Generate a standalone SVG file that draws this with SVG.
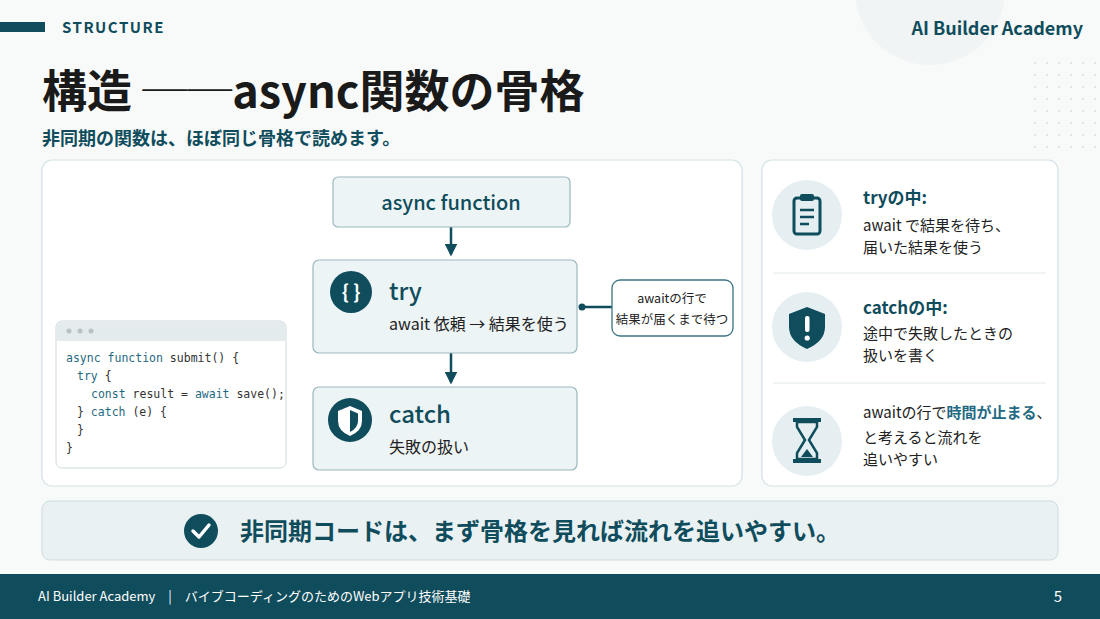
<svg xmlns="http://www.w3.org/2000/svg" width="1100" height="619" viewBox="0 0 1100 619">
<defs>
<style>
.t{font-family:"Noto Sans CJK JP","Noto Sans",sans-serif}
.m{font-family:"DejaVu Sans Mono","Liberation Mono",monospace;font-size:11.5px;fill:#333}
.k{fill:#1f6a82}
.box{fill:#edf4f5;stroke:#9bb8bf;stroke-width:1.2}
.panel{fill:#fff;stroke:#d3e2e5;stroke-width:1.2}
.ic{fill:#e5eef0}
.dk{fill:#0f4c5c}
</style>
<marker id="ah" viewBox="0 0 10 10" refX="8" refY="5" markerWidth="5" markerHeight="5" orient="auto"><path d="M0,0L10,5L0,10z" fill="#0f4c5c"/></marker>
<pattern id="dots" width="12" height="12" patternUnits="userSpaceOnUse"><circle cx="3" cy="3" r="1.2" fill="#dde6e8"/></pattern>
</defs>
<rect width="1100" height="619" fill="#f8fafa"/>
<circle cx="930" cy="-10" r="75" fill="#f1f4f4"/>
<rect x="1025" y="60" width="75" height="90" fill="url(#dots)"/>
<rect x="0" y="22" width="45" height="10" class="dk"/>
<text x="62" y="33" class="t" font-size="15" font-weight="700" fill="#0f4c5c" letter-spacing="1.5">STRUCTURE</text>
<text x="1083" y="35" class="t" font-size="18" font-weight="700" fill="#0f4c5c" text-anchor="end">AI Builder Academy</text>
<text x="42" y="108" class="t" font-size="45" font-weight="700" fill="#1a1a1a">構造 ──async関数の骨格</text>
<text x="42" y="145" class="t" font-size="18" font-weight="700" fill="#0f4c5c">非同期の関数は、ほぼ同じ骨格で読めます。</text>

<rect x="42" y="160" width="700" height="326" rx="10" class="panel"/>
<rect x="762" y="160" width="296" height="326" rx="10" class="panel"/>

<g id="connectors" stroke="#0f4c5c" stroke-width="2.5" fill="none">
<line x1="451" y1="227" x2="451" y2="254" marker-end="url(#ah)"/>
<line x1="451" y1="353" x2="451" y2="382" marker-end="url(#ah)"/>
<line x1="582" y1="307" x2="612" y2="307"/>
<circle cx="582" cy="307" r="3.5" fill="#0f4c5c" stroke="none"/>
</g>

<g id="async">
<rect x="333" y="177" width="237" height="50" rx="5" class="box"/>
<text x="451" y="210" class="t" font-size="20" font-weight="500" fill="#0f4c5c" text-anchor="middle">async function</text>
</g>
<g id="try">
<rect x="313" y="260" width="264" height="93" rx="6" class="box"/>
<circle cx="351" cy="292" r="21" class="dk"/>
<text x="351" y="299" class="t" font-size="19" font-weight="700" fill="#fff" text-anchor="middle">{ }</text>
<text x="389" y="300" class="t" font-size="24" font-weight="500" fill="#0f4c5c">try</text>
<text x="389" y="330" class="t" font-size="16" fill="#222">await 依頼 → 結果を使う</text>
</g>
<g id="catch">
<rect x="313" y="387" width="264" height="83" rx="6" class="box"/>
<circle cx="350" cy="420" r="22" class="dk"/>
<path d="M350,406 L362,411 L362,421 Q362,431 350,436 Q338,431 338,421 L338,411 Z" fill="#fff"/>
<path d="M350,410 L358,413.5 L358,421 Q358,428 350,432 Z" fill="#0f4c5c"/>
<text x="389" y="423" class="t" font-size="24" font-weight="500" fill="#0f4c5c">catch</text>
<text x="389" y="453" class="t" font-size="16" fill="#222">失敗の扱い</text>
</g>
<g id="note">
<rect x="612" y="280" width="121" height="56" rx="8" fill="#fff" stroke="#3d7483" stroke-width="1.3"/>
<text x="672" y="303" class="t" font-size="12.5" fill="#222" text-anchor="middle">awaitの行で</text>
<text x="672" y="324" class="t" font-size="12.5" fill="#222" text-anchor="middle">結果が届くまで待つ</text>
</g>
<g id="code">
<rect x="56" y="321" width="230" height="147" rx="6" fill="#fff" stroke="#cfdadd"/>
<path d="M56,341 V327 a6,6 0 0 1 6,-6 H280 a6,6 0 0 1 6,6 V341 Z" fill="#e4ebed"/>
<circle cx="69" cy="331" r="2.5" fill="#b5c2c6"/><circle cx="80" cy="331" r="2.5" fill="#b5c2c6"/><circle cx="91" cy="331" r="2.5" fill="#b5c2c6"/>
<text x="66" y="362" class="m"><tspan class="k">async function</tspan> submit() {</text>
<text x="77" y="380" class="m"><tspan class="k">try</tspan> {</text>
<text x="91" y="398" class="m"><tspan class="k">const</tspan> result = <tspan class="k">await</tspan> save();</text>
<text x="77" y="416" class="m">} <tspan class="k">catch</tspan> (e) {</text>
<text x="77" y="434" class="m">}</text>
<text x="66" y="452" class="m">}</text>
</g>

<g id="item1">
<circle cx="807" cy="215" r="35" class="ic"/>
<rect x="794" y="198" width="26" height="36" rx="3" fill="none" stroke="#0f4c5c" stroke-width="3"/>
<rect x="800" y="194" width="14" height="7" rx="2" class="dk"/>
<path d="M800,210h14M800,217h14M800,224h9" stroke="#0f4c5c" stroke-width="2.5"/>
<text x="863" y="204" class="t" font-size="17" font-weight="700" fill="#0f4c5c">tryの中:</text>
<text x="863" y="231" class="t" font-size="15" fill="#222">await で結果を待ち、</text>
<text x="863" y="253" class="t" font-size="15" fill="#222">届いた結果を使う</text>
</g>
<line x1="773" y1="273" x2="1046" y2="273" stroke="#e2eaec"/>
<g id="item2">
<circle cx="807" cy="327" r="35" class="ic"/>
<path d="M807,307 L825,314 L825,327 Q825,341 807,349 Q789,341 789,327 L789,314 Z" class="dk"/>
<rect x="805" y="316" width="4.5" height="16" rx="2" fill="#fff"/><circle cx="807.2" cy="338" r="2.6" fill="#fff"/>
<text x="863" y="314" class="t" font-size="17" font-weight="700" fill="#0f4c5c">catchの中:</text>
<text x="863" y="339" class="t" font-size="15" fill="#222">途中で失敗したときの</text>
<text x="863" y="361" class="t" font-size="15" fill="#222">扱いを書く</text>
</g>
<line x1="773" y1="383" x2="1046" y2="383" stroke="#e2eaec"/>
<g id="item3">
<circle cx="807" cy="441" r="35" class="ic"/>
<rect x="793" y="418" width="28" height="4" class="dk"/><rect x="793" y="459" width="28" height="4" class="dk"/>
<path d="M797,422 L817,422 L817,427 L809,440 L817,453 L817,459 L797,459 L797,453 L805,440 L797,427 Z" fill="none" stroke="#0f4c5c" stroke-width="2.5"/>
<path d="M801,457 L807,449 L813,457 Z" class="dk"/>
<text x="863" y="418" class="t" font-size="15" fill="#222">awaitの行で<tspan fill="#1f6a82" font-weight="700">時間が止まる</tspan>、</text>
<text x="863" y="443" class="t" font-size="15" fill="#222">と考えると流れを</text>
<text x="863" y="465" class="t" font-size="15" fill="#222">追いやすい</text>
</g>

<g id="banner">
<rect x="42" y="501" width="1016" height="59" rx="8" fill="#e9f1f3" stroke="#cddcdf"/>
<circle cx="201" cy="531" r="17" class="dk"/>
<path d="M193,531 L199,537 L209,525" fill="none" stroke="#fff" stroke-width="3.5" stroke-linecap="round" stroke-linejoin="round"/>
<text x="240" y="540" class="t" font-size="24" font-weight="700" fill="#0f4c5c">非同期コードは、まず骨格を見れば流れを追いやすい。</text>
</g>
<rect x="0" y="574" width="1100" height="45" class="dk"/>
<text x="38" y="601" class="t" font-size="13" fill="#fff">AI Builder Academy　|　バイブコーディングのためのWebアプリ技術基礎</text>
<text x="1062" y="602" class="t" font-size="15" fill="#fff" text-anchor="end">5</text>
</svg>
